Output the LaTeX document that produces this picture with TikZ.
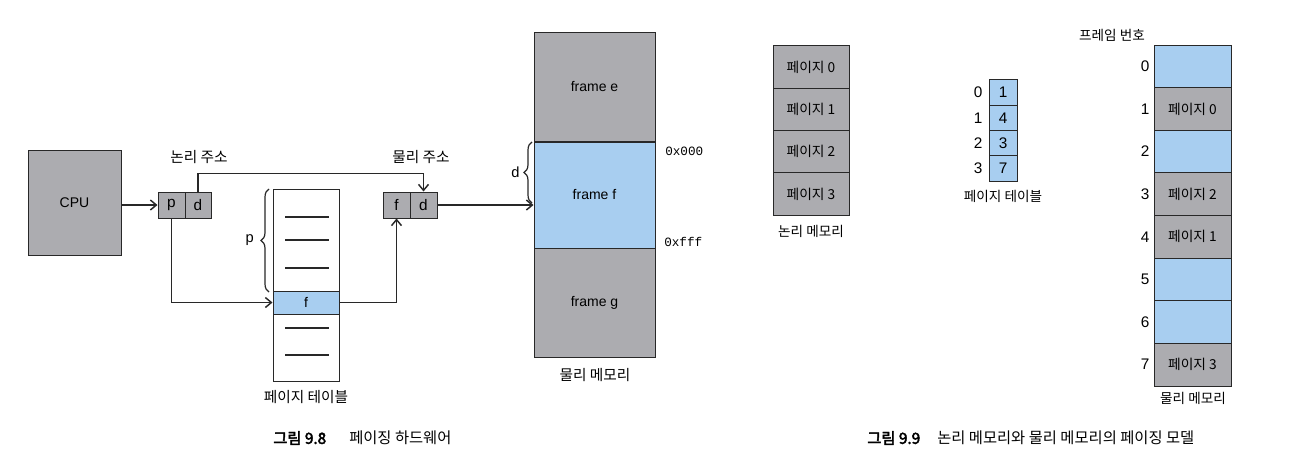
\documentclass[tikz,border=0pt]{standalone}
\usepackage{fontspec}
\setmainfont{Liberation Sans}
\setmonofont{Liberation Mono}
\newfontfamily\kr{Noto Sans CJK KR}[AutoFakeBold=3]
\usetikzlibrary{arrows.meta,decorations.pathreplacing}
\definecolor{memgray}{RGB}{172,172,176}
\definecolor{memblue}{RGB}{168,206,240}
\definecolor{edge}{RGB}{40,40,40}
\begin{document}
\begin{tikzpicture}[x=0.75pt,y=-0.75pt,
  wh/.style 2 args={minimum width=#1*0.75pt, minimum height=#2*0.75pt},
  cell/.style={draw=edge, line width=0.75pt, inner sep=0pt, fill=memgray, font=\fontsize{10.5}{12}\selectfont},
  bluecell/.style={cell, fill=memblue},
  krcell/.style={font=\kr\fontsize{10.3}{12}\selectfont},
  conn/.style={line width=1.1pt, draw=edge, -{Straight Barb[length=4.5pt,width=7.5pt]}},
  lbl/.style={font=\kr\fontsize{11}{13}\selectfont, inner sep=0pt},
  lbls/.style={font=\kr\fontsize{10.2}{12}\selectfont, inner sep=0pt},
  idx/.style={font=\fontsize{11.5}{13}\selectfont, inner sep=0pt},
  mono/.style={font=\ttfamily\fontsize{9.5}{11}\selectfont, inner sep=0pt, anchor=west},
  brc/.style={line width=0.9pt, draw=edge, decorate, decoration={brace, amplitude=6pt}},
  ptline/.style={line width=1.1pt, draw=edge},
  capb/.style={anchor=west, inner sep=0pt, font=\kr\bfseries\fontsize{11.5}{13}\selectfont},
  capt/.style={anchor=west, inner sep=0pt, font=\kr\fontsize{11.5}{13}\selectfont}
]
\useasboundingbox (0,0) rectangle (1298,471);

% ---------------- Figure 9.8 ----------------
\node[cell, wh={93}{105}] (cpu) at (74.5,202.5) {CPU};
\node[cell, wh={27}{26}, font=\fontsize{11.5}{13}\selectfont] (lp) at (171.5,205) {p};
\node[cell, wh={26}{26}, font=\fontsize{11.5}{13}\selectfont] (ld) at (198,205) {d};
\node[cell, wh={27}{26}, font=\fontsize{11.5}{13}\selectfont] (pf) at (396.5,205) {f};
\node[cell, wh={27}{26}, font=\fontsize{11.5}{13}\selectfont] (pd) at (423.5,205) {d};

\node[lbl] (la) at (199,157) {논리 주소};
\node[lbl] (pa) at (421,157) {물리 주소};

\node[draw=edge, line width=0.75pt, fill=white, wh={66}{192}, inner sep=0pt] (pt) at (306,285) {};
\node[bluecell, wh={66}{23}] (ptf) at (306,302.5) {f};
\foreach \y in {217,240,268,328,355} \draw[ptline] (285,\y) -- (329,\y);
\node[lbl] (ptl) at (306,397) {페이지 테이블};

\node[cell, wh={121}{109}] (fe) at (594.5,87) {frame e};
\node[bluecell, wh={121}{106}] (ff) at (594.5,195) {frame f};
\node[cell, wh={121}{109}] (fg) at (594.5,302.5) {frame g};
\node[lbl] (pml) at (595,375) {물리 메모리};
\node[mono] (a0) at (665,151) {0x000};
\node[mono] (af) at (664,242) {0xfff};

\draw[brc] (269,292) -- (269,189) node[midway, left=11pt, inner sep=0pt, font=\fontsize{11}{13}\selectfont] (pb) {p};
\draw[brc] (532,203) -- (532,142) node[midway, left=9pt, inner sep=0pt, font=\fontsize{11}{13}\selectfont] (db) {d};

\draw[conn] (cpu.east |- lp.west) -- (lp.west);
\draw[conn] (ld.north) -- ++(0,-18) -| (pd.north);
\draw[conn] (lp.south) |- (ptf.west);
\draw[conn] (ptf.east) -| (pf.south);
\draw[conn] (pd.east) -- (pd.east -| ff.west);

% ---------------- Figure 9.9 ----------------
\foreach \i/\y in {0/67.1,1/109.4,2/151.6,3/193.9}
  \node[cell, krcell, wh={76}{42.25}] (lm\i) at (811,\y) {페이지 \i};
\node[lbls] (lml) at (811,231) {논리 메모리};

\foreach \i/\y/\v in {0/92.6/1,1/117.9/4,2/143.1/3,3/168.4/7}{
  \node[bluecell, wh={28}{25.25}, font=\fontsize{11.5}{13}\selectfont] (pt\i) at (1003,\y) {\v};
  \node[idx] (pi\i) at (978,\y) {\i};
}
\node[lbls] (ptl2) at (1003,196) {페이지 테이블};

\node[lbls] (fnl) at (1112,35) {프레임 번호};
\foreach \i/\y/\s/\t in {0/66.3/bluecell/,1/108.9/cell/페이지 0,2/151.6/bluecell/,3/194.2/cell/페이지 2,4/236.8/cell/페이지 1,5/279.4/bluecell/,6/322.1/bluecell/,7/364.7/cell/페이지 3}{
  \node[\s, krcell, wh={77}{42.6}] (pm\i) at (1192.5,\y) {\t};
  \node[idx] (fi\i) at (1145,\y) {\i};
}
\node[lbls] (pml2) at (1193,398) {물리 메모리};

% ---------------- captions ----------------
\node[capb] (c1) at (273,438) {그림 9.8};
\node[capt] (c1t) at (349,438) {페이징 하드웨어};
\node[capb] (c2) at (867,438) {그림 9.9};
\node[capt] (c2t) at (937,438) {논리 메모리와 물리 메모리의 페이징 모델};
\end{tikzpicture}
\end{document}
